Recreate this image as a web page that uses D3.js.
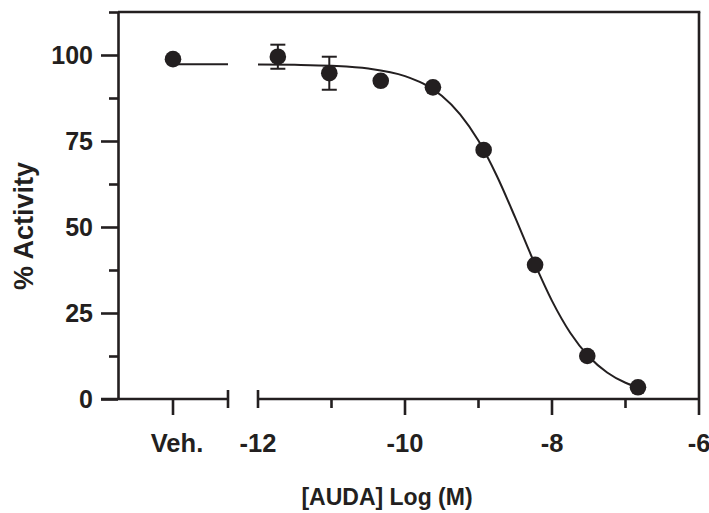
<!DOCTYPE html>
<html>
<head>
<meta charset="utf-8">
<script src="https://cdn.jsdelivr.net/npm/d3@7"></script>
<style>
    body { margin: 0; background: #fff; }
    text { font-family: "Liberation Sans", Arial, Helvetica, sans-serif; font-weight: bold; fill: #231f20; }
</style>
</head>
<body>
<svg id="chart"></svg>
<script>
/* data */

var vehLabel = ['Veh.'],
    vehValue = [98.8],
    vehLineValue = [97.3];

var logDose = [-11.73, -11.03, -10.33, -9.62, -8.93, -8.23, -7.52, -6.83],
    activity = [99.5, 94.7, 92.5, 90.6, 72.4, 39.0, 12.5, 3.4],
    sem = [3.5, 4.8, 0, 0, 0, 0, 0, 0];

/* fitted curve as it appears in the figure */
var curveX = [-12, -11.5, -11, -10.5, -10, -9.75, -9.5, -9.25, -9, -8.75, -8.5, -8.25, -8, -7.75, -7.5, -7.25, -7, -6.83],
    curveY = [97.25, 97.15, 96.87, 96.07, 93.87, 91.65, 88.14, 82.74, 75.05, 64.82, 52.71, 40.07, 28.53, 19.19, 12.36, 7.72, 4.72, 3.36];

var xMajor = [-12, -10, -8, -6],
    xMinor = [-11, -9, -7],
    yMajor = [0, 25, 50, 75, 100],
    yMinor = [12.5, 37.5, 62.5, 87.5, 112.5];

(function () {
    'use strict';

    var width = 709, height = 513,
        ink = '#231f20';

    var svg = d3.select('#chart')
        .attr('width', width)
        .attr('height', height);

    /* scales */

    var y = d3.scaleLinear().domain([0, 112.5]).range([399, 12]);
    var x = d3.scaleLinear().domain([-12, -6]).range([258, 699]);
    var xVeh = d3.scalePoint().domain(vehLabel).range([118, 228]).padding(0.5);

    /* y axis with major / minor ticks */

    svg.append('g')
        .attr('transform', 'translate(118,0)')
        .call(d3.axisLeft(y).tickValues(yMinor).tickSize(9).tickFormat(''))
        .call(function (g) { g.select('.domain').remove(); });

    var yAx = svg.append('g')
        .attr('transform', 'translate(118,0)')
        .call(d3.axisLeft(y).tickValues(yMajor).tickSize(17).tickPadding(8).tickSizeOuter(0));

    svg.selectAll('.tick line, .domain')
        .attr('stroke', ink).attr('stroke-width', 2.6);
    yAx.selectAll('text').attr('font-size', 25).attr('fill', ink);

    /* top and right frame */

    svg.append('line')
        .attr('x1', 118).attr('x2', x(-6) + 1.3)
        .attr('y1', y(112.5)).attr('y2', y(112.5))
        .attr('stroke', ink).attr('stroke-width', 2.6);
    svg.append('line')
        .attr('x1', x(-6)).attr('x2', x(-6))
        .attr('y1', y(112.5)).attr('y2', y(0) + 16)
        .attr('stroke', ink).attr('stroke-width', 2.6);

    /* broken x axis */

    var axisLine = function (x1, x2) {
        svg.append('line')
            .attr('x1', x1).attr('x2', x2)
            .attr('y1', y(0)).attr('y2', y(0))
            .attr('stroke', ink).attr('stroke-width', 2.6);
    };
    axisLine(101, 228);
    axisLine(258, 699);

    [228, 258].forEach(function (bx) {
        svg.append('line')
            .attr('x1', bx).attr('x2', bx)
            .attr('y1', y(0) - 9).attr('y2', y(0) + 9)
            .attr('stroke', ink).attr('stroke-width', 2.6);
    });

    var ticks = svg.append('g');
    ticks.selectAll('.major')
        .data(xMajor.filter(function (d) { return d !== -12 && d !== -6; }))
        .join('line')
        .attr('x1', x).attr('x2', x)
        .attr('y1', y(0)).attr('y2', y(0) + 16);
    ticks.selectAll('.minor')
        .data(xMinor)
        .join('line')
        .attr('class', 'minor')
        .attr('x1', x).attr('x2', x)
        .attr('y1', y(0)).attr('y2', y(0) + 9);
    ticks.append('line')
        .attr('x1', xVeh('Veh.')).attr('x2', xVeh('Veh.'))
        .attr('y1', y(0)).attr('y2', y(0) + 16);
    ticks.selectAll('line').attr('stroke', ink).attr('stroke-width', 2.6);

    /* x tick labels */

    svg.selectAll('.xlab')
        .data(xMajor)
        .join('text')
        .attr('class', 'xlab')
        .attr('x', x)
        .attr('y', 452)
        .attr('text-anchor', 'middle')
        .attr('font-size', 25.5)
        .text(function (d) { return d; });

    svg.append('text')
        .attr('x', xVeh('Veh.') + 4)
        .attr('y', 452)
        .attr('text-anchor', 'middle')
        .attr('font-size', 25.5)
        .text(vehLabel[0]);

    /* axis titles */

    svg.append('text')
        .attr('x', 387).attr('y', 505)
        .attr('text-anchor', 'middle')
        .attr('font-size', 23)
        .text('[AUDA] Log (M)');

    svg.append('text')
        .attr('transform', 'translate(33,226) rotate(-90)')
        .attr('text-anchor', 'middle')
        .attr('font-size', 27)
        .text('% Activity');

    /* vehicle baseline and fitted curve */

    svg.append('line')
        .attr('x1', xVeh('Veh.')).attr('x2', 228)
        .attr('y1', y(vehLineValue[0])).attr('y2', y(vehLineValue[0]))
        .attr('stroke', ink).attr('stroke-width', 2);

    var line = d3.line()
        .x(function (d) { return x(d[0]); })
        .y(function (d) { return y(d[1]); })
        .curve(d3.curveMonotoneX);

    svg.append('path')
        .datum(d3.zip(curveX, curveY))
        .attr('d', line)
        .attr('fill', 'none')
        .attr('stroke', ink)
        .attr('stroke-width', 2);

    /* error bars */

    var pts = d3.zip(logDose, activity, sem);
    var eb = svg.append('g').attr('stroke', ink).attr('stroke-width', 2);
    pts.filter(function (d) { return d[2] > 0; }).forEach(function (d) {
        var cx = x(d[0]), hi = y(d[1] + d[2]), lo = y(d[1] - d[2]);
        eb.append('line').attr('x1', cx).attr('x2', cx).attr('y1', hi).attr('y2', lo);
        eb.append('line').attr('x1', cx - 7.5).attr('x2', cx + 7.5).attr('y1', hi).attr('y2', hi);
        eb.append('line').attr('x1', cx - 7.5).attr('x2', cx + 7.5).attr('y1', lo).attr('y2', lo);
    });

    /* points */

    svg.selectAll('.dot')
        .data(pts)
        .join('circle')
        .attr('class', 'dot')
        .attr('cx', function (d) { return x(d[0]); })
        .attr('cy', function (d) { return y(d[1]); })
        .attr('r', 8.3)
        .attr('fill', ink);

    svg.append('circle')
        .attr('cx', xVeh('Veh.'))
        .attr('cy', y(vehValue[0]))
        .attr('r', 8.3)
        .attr('fill', ink);

})();
</script>
</body>
</html>
